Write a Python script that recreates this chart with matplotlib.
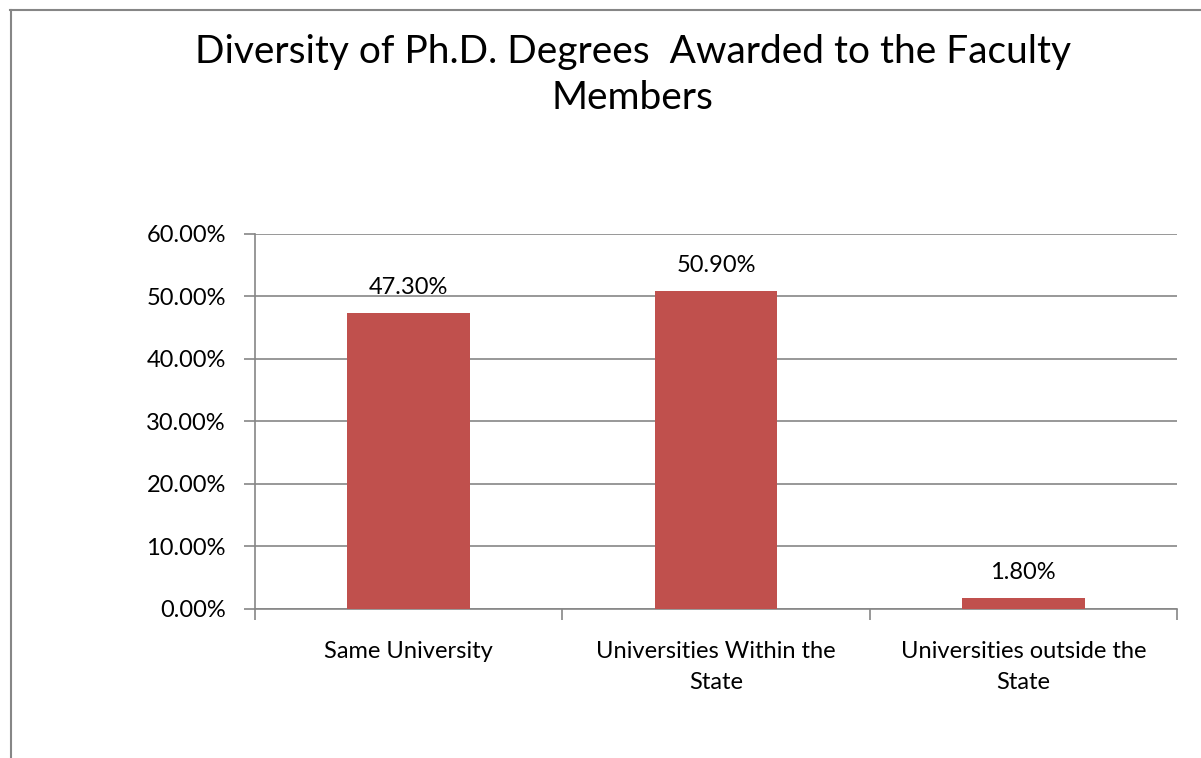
import matplotlib.pyplot as plt
import matplotlib.lines as mlines
from matplotlib.ticker import FuncFormatter

categories = ['Same University', 'Universities Within the\nState', 'Universities outside the\nState']
values = [0.473, 0.509, 0.018]
value_labels = ['47.30%', '50.90%', '1.80%']
y_ticks = [0.0, 0.1, 0.2, 0.3, 0.4, 0.5, 0.6]

plt.rcParams['font.family'] = ['Lato', 'DejaVu Sans']

fig = plt.figure(figsize=(12.01, 7.58), dpi=100)
ax = fig.add_axes([0.2123, 0.1966, 0.7677, 0.4947])

grey = '#868686'
x = list(range(len(categories)))
ax.bar(x, values, width=0.4, color='#C0504D', zorder=3)
for xi, v, lab in zip(x, values, value_labels):
    ax.text(xi, v + 0.024, lab, ha='center', va='bottom', fontsize=17, color='black')

ax.set_xlim(-0.5, 2.5)
ax.set_ylim(0, 0.6)
ax.set_yticks(y_ticks)
ax.yaxis.set_major_formatter(FuncFormatter(lambda v, p: '%.2f%%' % (v * 100)))
ax.set_xticks([-0.5, 0.5, 1.5, 2.5], minor=False)
ax.set_xticklabels([])
ax.set_xticks(x, minor=True)
ax.set_xticklabels(categories, minor=True, fontsize=17, linespacing=1.6)
ax.tick_params(axis='x', which='minor', length=0, pad=23)
ax.tick_params(axis='x', which='major', length=8, color=grey, width=1.2)
ax.tick_params(axis='y', length=8, color=grey, width=1.2, labelsize=17, pad=13)

ax.grid(axis='y', color=grey, linewidth=1.2, zorder=0)
for s in ['top', 'right']:
    ax.spines[s].set_visible(False)
for s in ['left', 'bottom']:
    ax.spines[s].set_color(grey)
    ax.spines[s].set_linewidth(1.2)

fig.text(0.527, 0.901, 'Diversity of Ph.D. Degrees  Awarded to the Faculty\nMembers',
         ha='center', va='center', fontsize=28, linespacing=1.35)

# outer chart border (only top and left visible in the crop)
fig.add_artist(mlines.Line2D([10.5 / 1201, 10.5 / 1201], [0, 1 - 10 / 758],
                             transform=fig.transFigure, color=grey, linewidth=1.5))
fig.add_artist(mlines.Line2D([10 / 1201, 1], [1 - 10 / 758, 1 - 10 / 758],
                             transform=fig.transFigure, color=grey, linewidth=1.5))

fig.savefig('out.png', dpi=100)
